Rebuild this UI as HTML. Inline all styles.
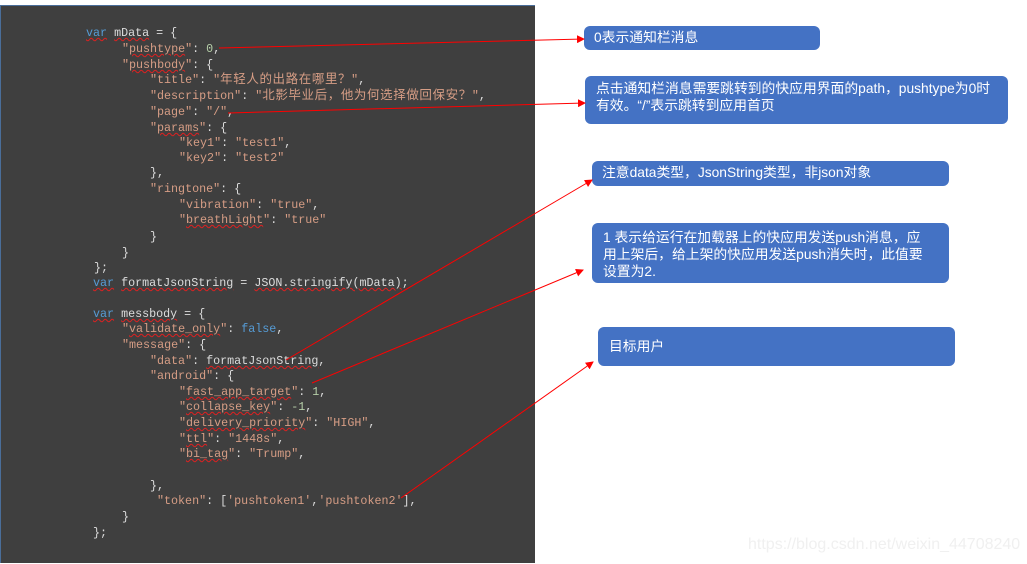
<!DOCTYPE html>
<html><head><meta charset="utf-8"><style>
html,body{margin:0;padding:0;width:1027px;height:564px;background:#fff;overflow:hidden;position:relative}
#panel{position:absolute;left:0;top:5px;width:535px;height:558px;background:#3f3f3f;border-left:1px solid #4a6e9a;border-top:1px solid #4a6e9a;box-sizing:border-box}
.l{position:absolute;font-family:"Liberation Mono","Noto Sans CJK SC",monospace;font-size:11.7px;color:#dcdcdc;white-space:pre;line-height:14px}
.s{color:#d69d85}.k{color:#569cd6}.n{color:#b5cea8}
.c{letter-spacing:0.6px;font-size:12.5px}
.u{text-decoration:underline wavy #e02020;text-decoration-thickness:1px}
.b{position:absolute;background:#4472c4;border-radius:6px;color:#fff;font-family:"Liberation Sans","Noto Sans CJK SC",sans-serif;font-size:13.8px;line-height:17px;box-sizing:border-box}
#wm{position:absolute;left:748px;top:536px;font-family:"Liberation Sans",sans-serif;font-size:16px;color:#f0f0f0}
</style></head><body>
<div id="panel"></div>
<div class="l" style="left:86px;top:26px"><span class="k u">var</span> <span class="u">mData</span> = {</div>
<div class="l" style="left:122px;top:42px"><span class="s">"<span class="u">pushtype</span>"</span>: <span class="n">0</span>,</div>
<div class="l" style="left:122px;top:58px"><span class="s">"<span class="u">pushbody</span>"</span>: {</div>
<div class="l" style="left:150px;top:73px"><span class="s">"title"</span>: <span class="s">"<span class="c">年轻人的出路在哪里？</span>"</span>,</div>
<div class="l" style="left:150px;top:89px"><span class="s">"description"</span>: <span class="s">"<span class="c">北影毕业后，他为何选择做回保安？</span>"</span>,</div>
<div class="l" style="left:150px;top:105px"><span class="s">"page"</span>: <span class="s">"/"</span>,</div>
<div class="l" style="left:150px;top:121px"><span class="s">"<span class="u">params</span>"</span>: {</div>
<div class="l" style="left:179px;top:136px"><span class="s">"key1"</span>: <span class="s">"test1"</span>,</div>
<div class="l" style="left:179px;top:151px"><span class="s">"key2"</span>: <span class="s">"test2"</span></div>
<div class="l" style="left:150px;top:166px">},</div>
<div class="l" style="left:150px;top:182px"><span class="s">"ringtone"</span>: {</div>
<div class="l" style="left:179px;top:198px"><span class="s">"vibration"</span>: <span class="s">"true"</span>,</div>
<div class="l" style="left:179px;top:213px"><span class="s">"<span class="u">breathLight</span>"</span>: <span class="s">"true"</span></div>
<div class="l" style="left:150px;top:230px">}</div>
<div class="l" style="left:122px;top:246px">}</div>
<div class="l" style="left:94px;top:261px">};</div>
<div class="l" style="left:93px;top:276px"><span class="k u">var</span> <span class="u">formatJsonString</span> = <span class="u">JSON.stringify(mData)</span>;</div>
<div class="l" style="left:93px;top:307px"><span class="k u">var</span> <span class="u">messbody</span> = {</div>
<div class="l" style="left:122px;top:322px"><span class="s">"<span class="u">validate_only</span>"</span>: <span class="k">false</span>,</div>
<div class="l" style="left:122px;top:338px"><span class="s">"message"</span>: {</div>
<div class="l" style="left:150px;top:354px"><span class="s">"data"</span>: <span class="u">formatJsonString</span>,</div>
<div class="l" style="left:150px;top:369px"><span class="s">"android"</span>: {</div>
<div class="l" style="left:179px;top:385px"><span class="s">"<span class="u">fast_app_target</span>"</span>: <span class="n">1</span>,</div>
<div class="l" style="left:179px;top:400px"><span class="s">"<span class="u">collapse_key</span>"</span>: <span class="n">-1</span>,</div>
<div class="l" style="left:179px;top:416px"><span class="s">"<span class="u">delivery_priority</span>"</span>: <span class="s">"HIGH"</span>,</div>
<div class="l" style="left:179px;top:432px"><span class="s">"<span class="u">ttl</span>"</span>: <span class="s">"1448s"</span>,</div>
<div class="l" style="left:179px;top:447px"><span class="s">"<span class="u">bi_tag</span>"</span>: <span class="s">"Trump"</span>,</div>
<div class="l" style="left:150px;top:479px">},</div>
<div class="l" style="left:157px;top:494px"><span class="s">"token"</span>: [<span class="s">'pushtoken1'</span>,<span class="s">'pushtoken2'</span>],</div>
<div class="l" style="left:122px;top:510px">}</div>
<div class="l" style="left:93px;top:526px">};</div>

<div class="b" style="left:584px;top:26px;width:236px;height:24px;padding:3px 0 0 10px">0表示通知栏消息</div>
<div class="b" style="left:585px;top:76px;width:423px;height:48px;padding:4px 0 0 11px">点击通知栏消息需要跳转到的快应用界面的path，pushtype为0时<br>有效。“/”表示跳转到应用首页</div>
<div class="b" style="left:592px;top:161px;width:357px;height:25px;padding:3px 0 0 10px">注意data类型，JsonString类型，非json对象</div>
<div class="b" style="left:592px;top:223px;width:357px;height:60px;padding:6px 0 0 11px;line-height:17px">1 表示给运行在加载器上的快应用发送push消息，应<br>用上架后，给上架的快应用发送push消失时，此值要<br>设置为2.</div>
<div class="b" style="left:598px;top:327px;width:357px;height:39px;padding:11px 0 0 11px">目标用户</div>

<svg width="1027" height="564" style="position:absolute;left:0;top:0" viewBox="0 0 1027 564">
<defs><marker id="a" markerWidth="8" markerHeight="8" refX="7" refY="4" orient="auto" markerUnits="userSpaceOnUse"><path d="M0,0 L8,4 L0,8 z" fill="#ff0000"/></marker></defs>
<g stroke="#ff0000" stroke-width="1" fill="none" marker-end="url(#a)">
<line x1="219" y1="48" x2="584" y2="39"/>
<line x1="228" y1="113" x2="585" y2="103"/>
<line x1="286" y1="360" x2="592" y2="180"/>
<line x1="312" y1="383" x2="583" y2="270"/>
<line x1="401" y1="498" x2="593" y2="362"/>
</g></svg>
<div id="wm">https://blog.csdn.net/weixin_44708240</div>
</body></html>
